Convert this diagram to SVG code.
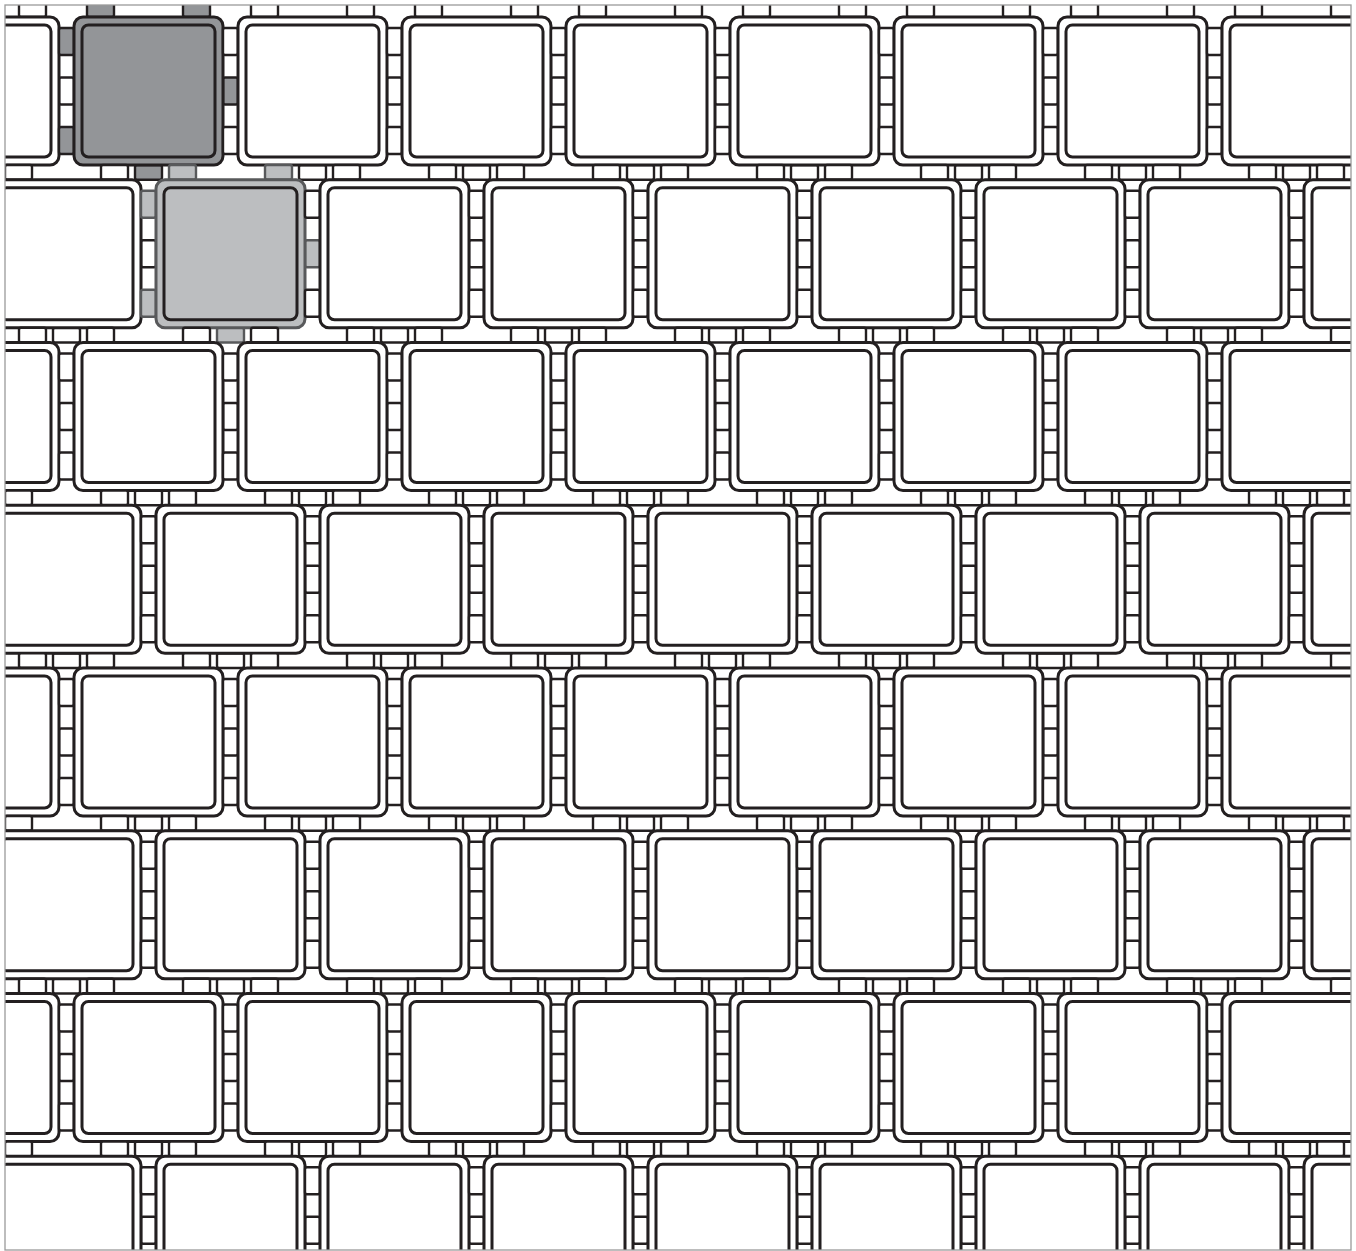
<svg xmlns="http://www.w3.org/2000/svg" xmlns:xlink="http://www.w3.org/1999/xlink" width="1356" height="1251" viewBox="0 0 1356 1251">
<style>
.node use{fill:#ffffff;stroke:#231f20}
.node.dark use{fill:#939598;stroke:#231f20}
</style>
<defs>
<clipPath id="clip"><rect x="5" y="5" width="1346" height="1245"/></clipPath>
<g id="tile">
<g stroke-width="2.4">
<rect x="13" y="-14.75" width="27" height="14.75" rx="2"/>
<rect x="109" y="-14.75" width="27" height="14.75" rx="2"/>
<rect x="61" y="148" width="27" height="14.75" rx="2"/>
<rect x="-15" y="11" width="15" height="27" rx="2"/>
<rect x="-15" y="110" width="15" height="27" rx="2"/>
<rect x="149" y="60.5" width="15" height="27" rx="2"/>
</g>
<rect x="0" y="0" width="149" height="148" rx="9" stroke-width="3"/>
<rect x="8" y="8" width="133" height="132" rx="6.5" stroke-width="3"/>
</g>
</defs>
<rect x="0" y="0" width="1356" height="1251" fill="#ffffff"/>
<g clip-path="url(#clip)">
<g id="row0">
<g id="n0-0" class="node"><use xlink:href="#tile" x="-90" y="17"/></g>
<g id="n0-1" class="node dark"><use xlink:href="#tile" x="74" y="17"/></g>
<g id="n0-2" class="node"><use xlink:href="#tile" x="238" y="17"/></g>
<g id="n0-3" class="node"><use xlink:href="#tile" x="402" y="17"/></g>
<g id="n0-4" class="node"><use xlink:href="#tile" x="566" y="17"/></g>
<g id="n0-5" class="node"><use xlink:href="#tile" x="730" y="17"/></g>
<g id="n0-6" class="node"><use xlink:href="#tile" x="894" y="17"/></g>
<g id="n0-7" class="node"><use xlink:href="#tile" x="1058" y="17"/></g>
<g id="n0-8" class="node"><use xlink:href="#tile" x="1222" y="17"/></g>
</g>
<g id="row1">
<g id="n1-0" class="node"><use xlink:href="#tile" x="-8" y="179.75"/></g>
<g id="n1-1" class="node light" transform="translate(156,179.75)">
<g stroke-width="2.4" fill="#bcbec0" stroke="#58595b">
<rect x="13" y="-14.75" width="27" height="14.75" rx="2"/>
<rect x="109" y="-14.75" width="27" height="14.75" rx="2"/>
<rect x="61" y="148" width="27" height="14.75" rx="2"/>
<rect x="-15" y="11" width="15" height="27" rx="2"/>
<rect x="-15" y="110" width="15" height="27" rx="2"/>
<rect x="149" y="60.5" width="15" height="27" rx="2"/>
</g>
<rect x="0" y="0" width="149" height="148" rx="9" stroke-width="3" fill="#bcbec0" stroke="#58595b"/>
<rect x="8" y="8" width="133" height="132" rx="6.5" stroke-width="3" fill="#bcbec0" stroke="#231f20"/>
</g>
<g id="n1-2" class="node"><use xlink:href="#tile" x="320" y="179.75"/></g>
<g id="n1-3" class="node"><use xlink:href="#tile" x="484" y="179.75"/></g>
<g id="n1-4" class="node"><use xlink:href="#tile" x="648" y="179.75"/></g>
<g id="n1-5" class="node"><use xlink:href="#tile" x="812" y="179.75"/></g>
<g id="n1-6" class="node"><use xlink:href="#tile" x="976" y="179.75"/></g>
<g id="n1-7" class="node"><use xlink:href="#tile" x="1140" y="179.75"/></g>
<g id="n1-8" class="node"><use xlink:href="#tile" x="1304" y="179.75"/></g>
</g>
<g id="row2">
<g id="n2-0" class="node"><use xlink:href="#tile" x="-90" y="342.5"/></g>
<g id="n2-1" class="node"><use xlink:href="#tile" x="74" y="342.5"/></g>
<g id="n2-2" class="node"><use xlink:href="#tile" x="238" y="342.5"/></g>
<g id="n2-3" class="node"><use xlink:href="#tile" x="402" y="342.5"/></g>
<g id="n2-4" class="node"><use xlink:href="#tile" x="566" y="342.5"/></g>
<g id="n2-5" class="node"><use xlink:href="#tile" x="730" y="342.5"/></g>
<g id="n2-6" class="node"><use xlink:href="#tile" x="894" y="342.5"/></g>
<g id="n2-7" class="node"><use xlink:href="#tile" x="1058" y="342.5"/></g>
<g id="n2-8" class="node"><use xlink:href="#tile" x="1222" y="342.5"/></g>
</g>
<g id="row3">
<g id="n3-0" class="node"><use xlink:href="#tile" x="-8" y="505.25"/></g>
<g id="n3-1" class="node"><use xlink:href="#tile" x="156" y="505.25"/></g>
<g id="n3-2" class="node"><use xlink:href="#tile" x="320" y="505.25"/></g>
<g id="n3-3" class="node"><use xlink:href="#tile" x="484" y="505.25"/></g>
<g id="n3-4" class="node"><use xlink:href="#tile" x="648" y="505.25"/></g>
<g id="n3-5" class="node"><use xlink:href="#tile" x="812" y="505.25"/></g>
<g id="n3-6" class="node"><use xlink:href="#tile" x="976" y="505.25"/></g>
<g id="n3-7" class="node"><use xlink:href="#tile" x="1140" y="505.25"/></g>
<g id="n3-8" class="node"><use xlink:href="#tile" x="1304" y="505.25"/></g>
</g>
<g id="row4">
<g id="n4-0" class="node"><use xlink:href="#tile" x="-90" y="668"/></g>
<g id="n4-1" class="node"><use xlink:href="#tile" x="74" y="668"/></g>
<g id="n4-2" class="node"><use xlink:href="#tile" x="238" y="668"/></g>
<g id="n4-3" class="node"><use xlink:href="#tile" x="402" y="668"/></g>
<g id="n4-4" class="node"><use xlink:href="#tile" x="566" y="668"/></g>
<g id="n4-5" class="node"><use xlink:href="#tile" x="730" y="668"/></g>
<g id="n4-6" class="node"><use xlink:href="#tile" x="894" y="668"/></g>
<g id="n4-7" class="node"><use xlink:href="#tile" x="1058" y="668"/></g>
<g id="n4-8" class="node"><use xlink:href="#tile" x="1222" y="668"/></g>
</g>
<g id="row5">
<g id="n5-0" class="node"><use xlink:href="#tile" x="-8" y="830.75"/></g>
<g id="n5-1" class="node"><use xlink:href="#tile" x="156" y="830.75"/></g>
<g id="n5-2" class="node"><use xlink:href="#tile" x="320" y="830.75"/></g>
<g id="n5-3" class="node"><use xlink:href="#tile" x="484" y="830.75"/></g>
<g id="n5-4" class="node"><use xlink:href="#tile" x="648" y="830.75"/></g>
<g id="n5-5" class="node"><use xlink:href="#tile" x="812" y="830.75"/></g>
<g id="n5-6" class="node"><use xlink:href="#tile" x="976" y="830.75"/></g>
<g id="n5-7" class="node"><use xlink:href="#tile" x="1140" y="830.75"/></g>
<g id="n5-8" class="node"><use xlink:href="#tile" x="1304" y="830.75"/></g>
</g>
<g id="row6">
<g id="n6-0" class="node"><use xlink:href="#tile" x="-90" y="993.5"/></g>
<g id="n6-1" class="node"><use xlink:href="#tile" x="74" y="993.5"/></g>
<g id="n6-2" class="node"><use xlink:href="#tile" x="238" y="993.5"/></g>
<g id="n6-3" class="node"><use xlink:href="#tile" x="402" y="993.5"/></g>
<g id="n6-4" class="node"><use xlink:href="#tile" x="566" y="993.5"/></g>
<g id="n6-5" class="node"><use xlink:href="#tile" x="730" y="993.5"/></g>
<g id="n6-6" class="node"><use xlink:href="#tile" x="894" y="993.5"/></g>
<g id="n6-7" class="node"><use xlink:href="#tile" x="1058" y="993.5"/></g>
<g id="n6-8" class="node"><use xlink:href="#tile" x="1222" y="993.5"/></g>
</g>
<g id="row7">
<g id="n7-0" class="node"><use xlink:href="#tile" x="-8" y="1156.25"/></g>
<g id="n7-1" class="node"><use xlink:href="#tile" x="156" y="1156.25"/></g>
<g id="n7-2" class="node"><use xlink:href="#tile" x="320" y="1156.25"/></g>
<g id="n7-3" class="node"><use xlink:href="#tile" x="484" y="1156.25"/></g>
<g id="n7-4" class="node"><use xlink:href="#tile" x="648" y="1156.25"/></g>
<g id="n7-5" class="node"><use xlink:href="#tile" x="812" y="1156.25"/></g>
<g id="n7-6" class="node"><use xlink:href="#tile" x="976" y="1156.25"/></g>
<g id="n7-7" class="node"><use xlink:href="#tile" x="1140" y="1156.25"/></g>
<g id="n7-8" class="node"><use xlink:href="#tile" x="1304" y="1156.25"/></g>
</g>
</g>
<g id="connectors"/>
<rect x="5" y="5" width="1346" height="1245" fill="none" stroke="#9a9a9a" stroke-width="1.3"/>
</svg>
